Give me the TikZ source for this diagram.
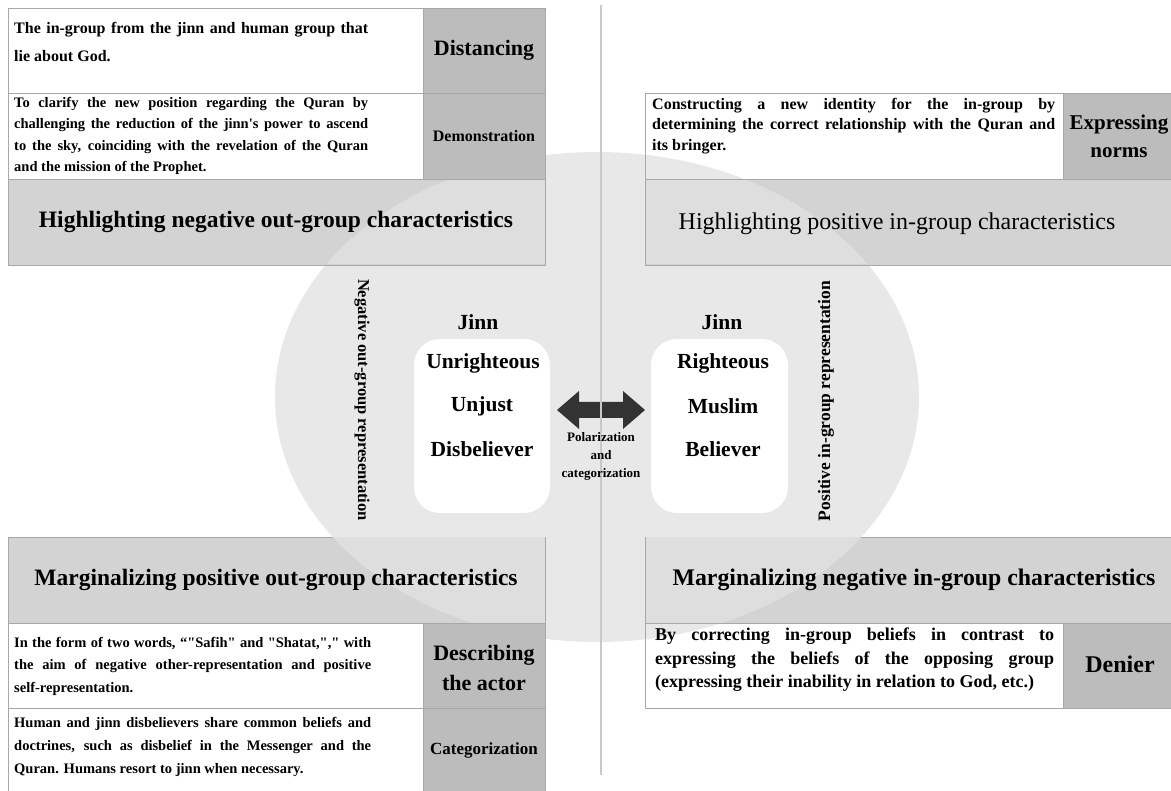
\documentclass[tikz,border=0pt]{standalone}
\usepackage{fontspec}
\setmainfont{Liberation Serif}
\newfontfamily\gfont{Liberation Serif}
\definecolor{hdr}{HTML}{D3D3D3}
\definecolor{hdrlt}{HTML}{DEDEDE}
\definecolor{ell}{HTML}{E8E8E8}
\definecolor{lab}{HTML}{BCBCBC}
\definecolor{brd}{HTML}{A8A8A8}
\definecolor{arrc}{HTML}{333333}
\definecolor{divc}{HTML}{C8C8C8}
\newcommand{\fs}[2]{\fontsize{#1}{#2}\selectfont}
\begin{document}
\gfont
\begin{tikzpicture}[x=1pt,y=-1pt,
  cellline/.style={draw=brd,line width=0.9pt},
  labcell/.style={fill=lab,draw=brd,line width=0.9pt},
  hdrcell/.style={fill=hdr,draw=brd,line width=0.9pt},
  bodytxt/.style n args={2}{anchor=west,align=justify,inner sep=0pt,
    font=\gfont\bfseries\fs{#1}{#2}\hyphenpenalty10000\exhyphenpenalty10000},
  labtxt/.style={align=center,inner sep=0pt},
  hdrtxt/.style={inner sep=0pt},
  ctrtxt/.style={inner sep=0pt,font=\gfont\bfseries\fs{21.5}{26}},
  sidetxt/.style={inner sep=0pt,font=\gfont\bfseries\fs{16.5}{20}}
]
\useasboundingbox (0,0) rectangle (1171,791);
\clip (0,0) rectangle (1171,791);
% background ellipse
\fill[ell] (597,397) ellipse [x radius=322, y radius=245];
% header boxes
\draw[hdrcell] (8,179) rectangle (545,265);
\draw[hdrcell] (645,179) rectangle (1180,265);
\draw[hdrcell] (8,537) rectangle (545,623);
\draw[hdrcell] (645,537) rectangle (1180,623);
\begin{scope}
  \clip (597,397) ellipse [x radius=322, y radius=245];
  \fill[hdrlt] (8.5,179.5) rectangle (544.5,264.5);
  \fill[hdrlt] (645.5,179.5) rectangle (1180,264.5);
  \fill[hdrlt] (8.5,537.5) rectangle (544.5,622.5);
  \fill[hdrlt] (645.5,537.5) rectangle (1180,622.5);
\end{scope}
% text cells
\draw[cellline] (8,8) rectangle (423,93);
\draw[cellline] (8,93) rectangle (423,179);
\draw[labcell] (423,8) rectangle (545,93);
\draw[labcell] (423,93) rectangle (545,179);
\draw[cellline] (645,93) rectangle (1063,179);
\draw[labcell] (1063,93) rectangle (1180,179);
\draw[cellline] (8,623) rectangle (423,708);
\draw[cellline] (8,708) rectangle (423,800);
\draw[labcell] (423,623) rectangle (545,708);
\draw[labcell] (423,708) rectangle (545,800);
\draw[cellline] (645,623) rectangle (1063,708);
\draw[labcell] (1063,623) rectangle (1180,708);
% inner rounded boxes
\fill[white,rounded corners=26] (414,339) rectangle (550,513);
\fill[white,rounded corners=26] (651,339) rectangle (788,513);
% arrow
\fill[arrc] (557,410) -- (579,391) -- (579,402) -- (623,402) -- (623,391) -- (645,410)
  -- (623,429) -- (623,418) -- (579,418) -- (579,429) -- cycle;
% divider
\draw[divc,line width=1.6pt] (601,5) -- (601,775);
% body texts
\node[bodytxt={16}{28},text width=354] (t1) at (14,42)
  {The in-group from the jinn and human group that\linebreak lie about God.};
\node[bodytxt={14.5}{21.5},text width=354] (t2) at (14,136)
  {To clarify the new position regarding the Quran by\linebreak challenging the reduction of the jinn's power to ascend\linebreak to the sky, coinciding with the revelation of the Quran\linebreak and the mission of the Prophet.};
\node[bodytxt={16}{20.5},text width=403] (t3) at (652,126)
  {Constructing a new identity for the in-group by\linebreak determining the correct relationship with the Quran and\linebreak its bringer.};
\node[bodytxt={14.5}{22.5},text width=357] (t4) at (14,666)
  {In the form of two words, “"Safih" and "Shatat,"," with\linebreak the aim of negative other-representation and positive\linebreak self-representation.};
\node[bodytxt={14.5}{23},text width=357] (t5) at (14,747)
  {Human and jinn disbelievers share common beliefs and\linebreak doctrines, such as disbelief in the Messenger and the\linebreak Quran. Humans resort to jinn when necessary.};
\node[bodytxt={18}{23.5},text width=399] (t6) at (655,660)
  {By correcting in-group beliefs in contrast to\linebreak expressing the beliefs of the opposing group\linebreak (expressing their inability in relation to God, etc.)};
% label texts
\node[labtxt,font=\gfont\bfseries\fs{22}{26}] (l1) at (484,50) {Distancing};
\node[labtxt,font=\gfont\bfseries\fs{16}{20}] (l2) at (484,136) {Demonstration};
\node[labtxt,font=\gfont\bfseries\fs{21}{28}] (l3) at (1119,136) {Expressing\\norms};
\node[labtxt,font=\gfont\bfseries\fs{22}{30}] (l4) at (484,668) {Describing\\the actor};
\node[labtxt,font=\gfont\bfseries\fs{17}{20}] (l5) at (484,750) {Categorization};
\node[labtxt,font=\gfont\bfseries\fs{24}{28}] (l6) at (1120,664) {Denier};
% headers
\node[hdrtxt,font=\gfont\bfseries\fs{23.5}{28}] (h1) at (276,222) {Highlighting negative out-group characteristics};
\node[hdrtxt,font=\gfont\fs{24}{28}] (h2) at (897,224) {Highlighting positive in-group characteristics};
\node[hdrtxt,font=\gfont\bfseries\fs{23.5}{28}] (h3) at (276,580) {Marginalizing positive out-group characteristics};
\node[hdrtxt,font=\gfont\bfseries\fs{23.8}{28}] (h4) at (914,580) {Marginalizing negative in-group characteristics};
% center texts
\node[ctrtxt] (jl) at (478,322) {Jinn};
\node[ctrtxt] (u1) at (483,363) {Unrighteous};
\node[ctrtxt] (u2) at (482,406) {Unjust};
\node[ctrtxt] (u3) at (482,449) {Disbeliever};
\node[ctrtxt] (jr) at (722,322) {Jinn};
\node[ctrtxt] (r1) at (723,363) {Righteous};
\node[ctrtxt] (r2) at (723,406) {Muslim};
\node[ctrtxt] (r3) at (723,449) {Believer};
\node[labtxt,font=\gfont\bfseries\fs{13}{18}] (pol) at (601,456) {Polarization\\and\\categorization};
\node[sidetxt,rotate=-90] (neg) at (362,400) {Negative out-group representation};
\node[sidetxt,rotate=90,font=\gfont\bfseries\fs{17.5}{20}] (pos) at (826,401) {Positive in-group representation};
\end{tikzpicture}
\end{document}
